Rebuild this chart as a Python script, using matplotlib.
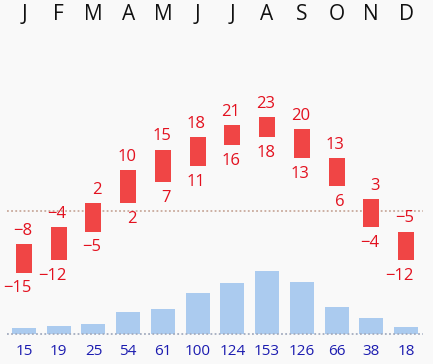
import matplotlib.pyplot as plt

months = ["J", "F", "M", "A", "M", "J", "J", "A", "S", "O", "N", "D"]
t_max = [-8, -4, 2, 10, 15, 18, 21, 23, 20, 13, 3, -5]
t_min = [-15, -12, -5, 2, 7, 11, 16, 18, 13, 6, -4, -12]
rain = [15, 19, 25, 54, 61, 100, 124, 153, 126, 66, 38, 18]

plt.rcParams['font.family'] = ['Open Sans', 'DejaVu Sans']

fig = plt.figure(figsize=(4.33, 3.64), dpi=100)
fig.patch.set_facecolor('#f9f9f9')

# temperature axis (px: 211 - 4.1*T)
ax = fig.add_axes([0, 0, 1, 1])
ax.set_facecolor('#f9f9f9')
ax.set_xlim(-24 / 34.73, (433 - 24) / 34.73)
ax.set_ylim((211 - 364) / 4.1, 211 / 4.1)
ax.axis('off')

# rain axis (px: 334 - 0.41*P)
ax2 = ax.twinx()
ax2.set_xlim(ax.get_xlim())
ax2.set_ylim((334 - 364) / 0.41, 334 / 0.41)
ax2.axis('off')

x = list(range(len(months)))
red = '#f04545'
red_txt = '#e3111f'
blue_txt = '#1c1cb0'

ax2.bar(x, rain, width=0.69, color='#abcbef', zorder=2)
ax2.hlines(0, -0.5, 11.5, colors='#a3acbf', linestyles=(0, (1, 1.3)), lw=1.3, zorder=3)
for i, p in enumerate(rain):
    ax2.annotate(str(p), (i, 0), xytext=(0, -12.5), textcoords='offset points',
                 ha='center', va='center', fontsize=11, color=blue_txt)

ax.hlines(0, -0.5, 11.5, colors='#c9aa9c', linestyles=(0, (1, 1.3)), lw=1.3, zorder=1)
heights = [hi - lo for hi, lo in zip(t_max, t_min)]
ax.bar(x, heights, bottom=t_min, width=0.46, color=red, zorder=4)
for i in x:
    ax.annotate(str(t_max[i]).replace('-', '\u2212'), (i + 0.23, t_max[i]),
                xytext=(0, 9.5), textcoords='offset points',
                ha='right', va='center', fontsize=12, color=red_txt)
    ax.annotate(str(t_min[i]).replace('-', '\u2212'), (i + 0.23, t_min[i]),
                xytext=(0, -11.5), textcoords='offset points',
                ha='right', va='center', fontsize=12, color=red_txt)

for i, m in enumerate(months):
    ax.text(i, 1 - 15 / 364, m, transform=ax.get_xaxis_transform(),
            ha='center', va='center', fontsize=15, fontweight='medium',
            color='#111111')

fig.savefig('out.png', dpi=100, facecolor=fig.get_facecolor())
